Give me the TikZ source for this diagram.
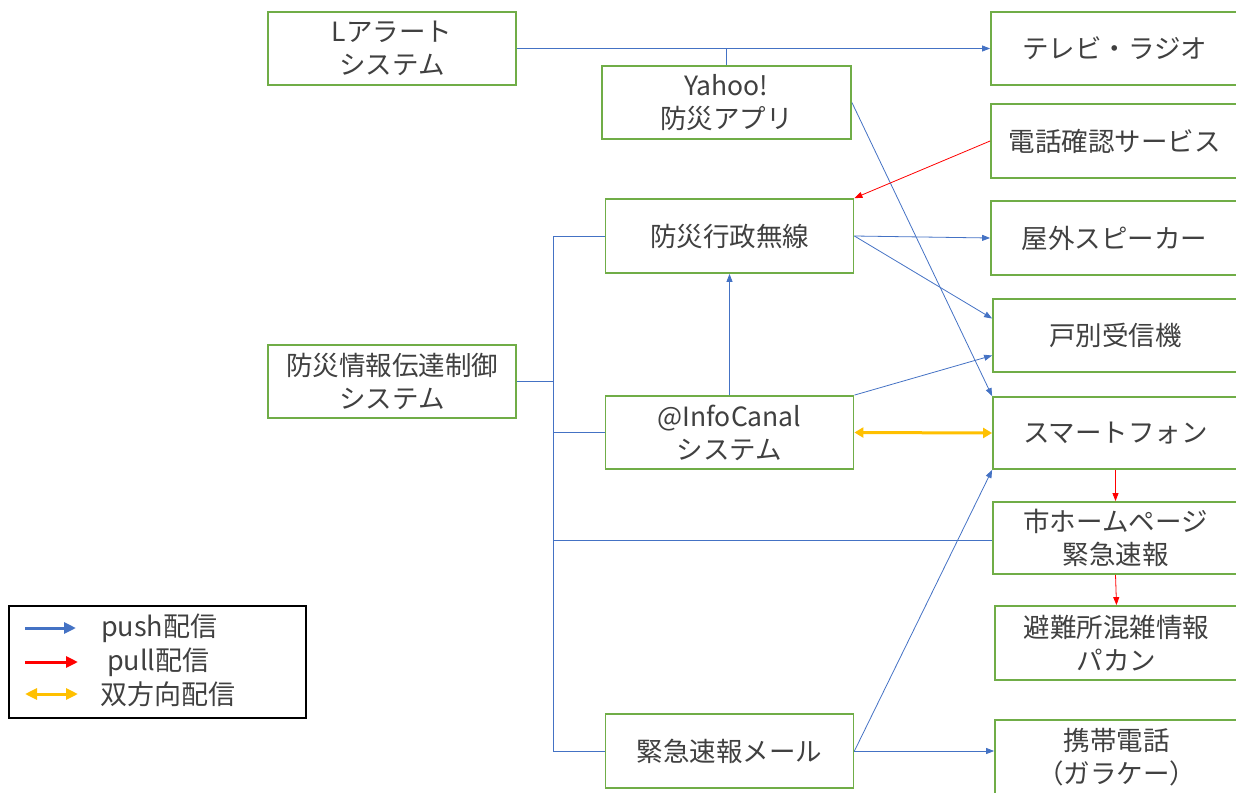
\documentclass[tikz,border=0pt]{standalone}
\usepackage{fontspec}
\setmainfont{Noto Sans CJK JP}
\usetikzlibrary{arrows.meta,calc}
\definecolor{boxgreen}{HTML}{70AD47}
\definecolor{pushblue}{HTML}{4472C4}
\definecolor{pullred}{HTML}{FF0000}
\definecolor{bothorange}{HTML}{FFC000}
\definecolor{txt}{HTML}{404040}
\begin{document}
\begin{tikzpicture}[x=1pt,y=-1pt,
  box/.style={draw=boxgreen, line width=1.8pt, fill=white, minimum width=248pt, minimum height=73pt,
    inner sep=0pt, align=center, text=txt, font=\fontsize{26.5}{33}\selectfont},
  push/.style={draw=pushblue, line width=0.8pt, -{Triangle[length=8pt,width=6pt]}},
  pushline/.style={draw=pushblue, line width=0.8pt},
  pull/.style={draw=pullred, line width=0.8pt, -{Triangle[length=8pt,width=6pt]}},
  both/.style={draw=bothorange, line width=3pt, {Triangle[length=9pt,width=10pt]}-{Triangle[length=9pt,width=10pt]}},
  legtxt/.style={anchor=west, inner sep=0pt, text=txt, font=\fontsize{27}{30}\selectfont}]
\useasboundingbox (0,0) rectangle (1236,792);
% boxes
\node[box] (lalert) at (392,48.5) {Lアラート\\システム};
\node[box, minimum width=247pt] (tv) at (1114.5,48.5) {テレビ・ラジオ};
\node[box, minimum width=249pt] (yahoo) at (726.5,102.5) {Yahoo!\\防災アプリ};
\node[box, minimum width=247pt, minimum height=74pt] (tel) at (1114.5,141) {電話確認サービス};
\node[box, minimum height=74pt] (musen) at (729.5,236) {防災行政無線};
\node[box, minimum width=247pt, minimum height=74pt] (speaker) at (1114.5,238) {屋外スピーカー};
\node[box, minimum width=245pt] (kobetsu) at (1115.5,335.5) {戸別受信機};
\node[box] (control) at (392,381.5) {防災情報伝達制御\\システム};
\node[box] (infocanal) at (729.5,432.5) {@InfoCanal\\システム};
\node[box, minimum width=245pt, minimum height=72pt] (smart) at (1115.5,433) {スマートフォン};
\node[box, minimum width=245pt, minimum height=72pt] (homepage) at (1115.5,538) {市ホームページ\\緊急速報};
\node[box, minimum width=243pt, minimum height=74pt] (hinan) at (1116.5,643) {避難所混雑情報\\パカン};
\node[box, minimum height=74pt] (mail) at (729.5,751) {緊急速報メール};
\node[box, minimum width=243pt, minimum height=74pt] (keitai) at (1116.5,757) {携帯電話\\（ガラケー）};
% connectors
\draw[push] (lalert.east) -- (lalert.east -| tv.west);
\draw[pushline] (yahoo.north) -- (yahoo.north |- lalert.east);
\draw[push] (yahoo.east) -- (smart.north west);
\draw[pull] (tel.west) -- (musen.north east);
\draw[push] (musen.east) -- (speaker.west);
\draw[push] (musen.east) -- ([yshift=17pt]kobetsu.west);
\draw[push] (infocanal.north east) -- ([yshift=-20pt]kobetsu.west);
\draw[push] (infocanal.north) -- (musen.south);
\draw[both] (infocanal.east) -- (smart.west);
\draw[pull] (smart.south) -- (homepage.north);
\draw[pull] (homepage.south) -- (hinan.north);
\draw[push] (mail.east) -- (mail.east -| keitai.west);
\draw[push] (mail.east) -- (smart.south west);
% bus from control system
\coordinate (busT) at (553,236);
\coordinate (busB) at (553,751);
\draw[pushline] (busT) -- (busB);
\draw[pushline] (control.east) -- (control.east -| busT);
\draw[pushline] (busT) -- (musen.west);
\draw[pushline] (infocanal.west -| busT) -- (infocanal.west);
\draw[pushline] ([yshift=-2pt]homepage.west -| busT) -- ([yshift=-2pt]homepage.west);
\draw[pushline] (busB) -- (mail.west);
% legend
\node[draw=black, line width=1.2pt, minimum width=297pt, minimum height=112pt, inner sep=0pt] (legend) at (157.5,662) {};
\coordinate (l1a) at (25,628); \coordinate (l1b) at (76,628);
\coordinate (l2a) at (25,662); \coordinate (l2b) at (78,662);
\coordinate (l3a) at (25,694); \coordinate (l3b) at (78,694);
\draw[draw=pushblue, line width=3pt, -{Triangle[length=12pt,width=11pt]}] (l1a) -- (l1b);
\draw[draw=pullred, line width=3pt, -{Triangle[length=12pt,width=11pt]}] (l2a) -- (l2b);
\draw[draw=bothorange, line width=3pt, {Triangle[length=12pt,width=11pt]}-{Triangle[length=12pt,width=11pt]}] (l3a) -- (l3b);
\node[legtxt] (t1) at (101,628) {push配信};
\node[legtxt] (t2) at (107,662) {pull配信};
\node[legtxt] (t3) at (100,694) {双方向配信};
\end{tikzpicture}
\end{document}
